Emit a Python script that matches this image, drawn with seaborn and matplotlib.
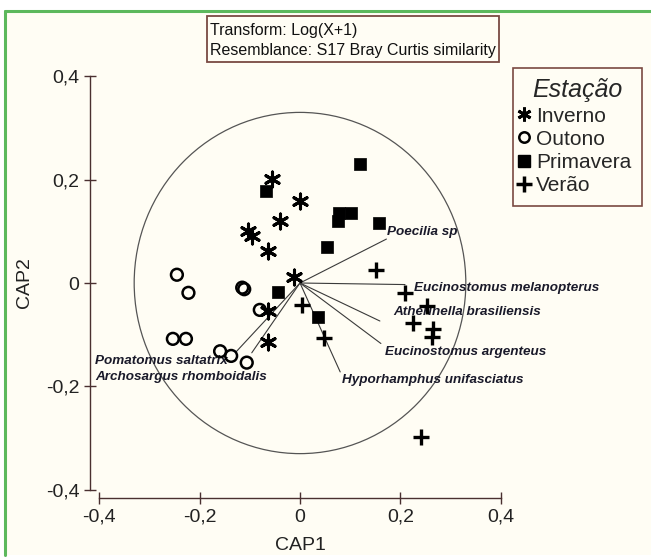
import matplotlib
matplotlib.use('Agg')
import matplotlib.pyplot as plt
import seaborn as sns
import pandas as pd
from matplotlib.patches import Ellipse, Rectangle
from matplotlib.lines import Line2D

# sample scores on CAP1 / CAP2, by season
inverno_x = [-0.055, 0.001, -0.040, -0.104, -0.096, -0.063, -0.011, -0.063, -0.063]
inverno_y = [0.201, 0.159, 0.119, 0.101, 0.091, 0.062, 0.012, -0.054, -0.115]
outono_x = [-0.245, -0.222, -0.115, -0.111, -0.080, -0.253, -0.227, -0.159, -0.137, -0.106]
outono_y = [0.016, -0.019, -0.009, -0.012, -0.052, -0.108, -0.108, -0.132, -0.141, -0.154]
primavera_x = [-0.068, -0.043, 0.119, 0.078, 0.101, 0.075, 0.157, 0.054, 0.035]
primavera_y = [0.177, -0.018, 0.230, 0.136, 0.136, 0.120, 0.117, 0.069, -0.065]
verao_x = [0.151, 0.209, 0.253, 0.224, 0.265, 0.262, 0.003, 0.048, 0.241]
verao_y = [0.026, -0.019, -0.044, -0.078, -0.088, -0.105, -0.043, -0.107, -0.298]

# species vectors (end points)
species = ["Poecilia sp", "Eucinostomus melanopterus", "Atherinella brasiliensis",
           "Eucinostomus argenteus", "Hyporhamphus unifasciatus",
           "Pomatomus saltatrix", "Archosargus rhomboidalis"]
vec_x = [0.172, 0.209, 0.159, 0.161, 0.080, -0.128, -0.096]
vec_y = [0.085, -0.003, -0.0735, -0.117, -0.172, -0.134, -0.135]

ticks = [-0.4, -0.2, 0, 0.2, 0.4]
tick_labels = ["-0,4", "-0,2", "0", "0,2", "0,4"]
circle_r = 0.33

sns.set_style("ticks")
plt.rcParams["font.family"] = ["Liberation Sans", "DejaVu Sans"]

CREAM = "#fffdf4"
BROWN = "#7a4a42"
AXC = "#4a3030"
W, H = 651, 560

fig = plt.figure(figsize=(W / 100, H / 100), dpi=100)
fig.patch.set_facecolor("white")
fig.patches.append(Rectangle((5 / W, 1 - 555 / H), 1 - 5 / W, (555 - 11) / H,
                             transform=fig.transFigure, fc=CREAM, ec="none", zorder=-10))
fig.lines.append(Line2D([5 / W, 5 / W], [1 - 555 / H, 1 - 11 / H], transform=fig.transFigure,
                        color="#5cb85c", lw=2.2))
fig.lines.append(Line2D([5 / W, 1], [1 - 11 / H, 1 - 11 / H], transform=fig.transFigure,
                        color="#5cb85c", lw=2.2))

ax = fig.add_axes([88 / W, 1 - 500 / H, (645 - 88) / W, (500 - 70) / H])
ax.set_facecolor("none")
ax.set_xlim(-0.4219, 0.6866)
ax.set_ylim(-0.4197, 0.4120)

ax.add_patch(Ellipse((0, 0), 2 * circle_r, 2 * circle_r, fill=False, ec="#555555", lw=0.9))

offsets = {
    "Poecilia sp": (1, 7, "left"),
    "Eucinostomus melanopterus": (9, -3, "left"),
    "Atherinella brasiliensis": (13, 9, "left"),
    "Eucinostomus argenteus": (4, -8, "left"),
    "Hyporhamphus unifasciatus": (2, -8, "left"),
    "Pomatomus saltatrix": (-8, -9, "right"),
    "Archosargus rhomboidalis": (15, -24, "right"),
}
for name, vx, vy in zip(species, vec_x, vec_y):
    ax.plot([0, vx], [0, vy], color="#3a3a3a", lw=0.8, zorder=2)
    dx, dy, ha = offsets[name]
    ax.annotate(name, (vx, vy), xytext=(dx, dy), textcoords="offset pixels",
                ha=ha, va="center", fontsize=9.7, fontweight="bold", fontstyle="italic",
                color="#1a1a2a")

df_inv = pd.DataFrame({"CAP1": inverno_x, "CAP2": inverno_y})
df_out = pd.DataFrame({"CAP1": outono_x, "CAP2": outono_y})
df_pri = pd.DataFrame({"CAP1": primavera_x, "CAP2": primavera_y})
df_ver = pd.DataFrame({"CAP1": verao_x, "CAP2": verao_y})

sns.scatterplot(data=df_inv, x="CAP1", y="CAP2", marker=(6, 2, 0), s=115, color="black",
                linewidth=2.2, ax=ax, zorder=3)
sns.scatterplot(data=df_out, x="CAP1", y="CAP2", marker="o", s=72, facecolor="none",
                edgecolor="black", linewidth=1.8, ax=ax, zorder=3)
sns.scatterplot(data=df_pri, x="CAP1", y="CAP2", marker="s", s=72, color="black",
                edgecolor="black", linewidth=0.5, ax=ax, zorder=3)
sns.scatterplot(data=df_ver, x="CAP1", y="CAP2", marker="+", s=125, color="black",
                linewidth=2.4, ax=ax, zorder=3)

# axes styling
sns.despine(ax=ax)
ax.spines["left"].set_position(("data", -0.418))
ax.spines["bottom"].set_position(("data", -0.416))
ax.spines["left"].set_bounds(-0.4, 0.4)
ax.spines["bottom"].set_bounds(-0.4, 0.4)
for sp in ("left", "bottom"):
    ax.spines[sp].set_color(AXC)
    ax.spines[sp].set_linewidth(1.0)
ax.set_xticks(ticks)
ax.set_xticklabels(tick_labels)
ax.set_yticks(ticks)
ax.set_yticklabels(tick_labels)
ax.tick_params(direction="inout", length=9, width=1, color=AXC, labelsize=14,
               labelcolor="#222222", pad=3)
ax.set_xlabel("")
ax.set_ylabel("")
fig.text(300 / W, 1 - 545 / H, "CAP1", ha="center", va="center", fontsize=14, color="#222222")
fig.text(25 / W, 1 - 283 / H, "CAP2", ha="center", va="center", rotation=90, fontsize=14,
         color="#222222")

# transform / resemblance box
fig.patches.append(Rectangle((207 / W, 1 - 62 / H), (499 - 207) / W, (62 - 16) / H,
                             transform=fig.transFigure, fc="none", ec=BROWN, lw=1.3))
fig.text(210 / W, 1 - 30 / H, "Transform: Log(X+1)", ha="left", va="center", fontsize=11.5,
         color="#111111")
fig.text(210 / W, 1 - 50 / H, "Resemblance: S17 Bray Curtis similarity", ha="left",
         va="center", fontsize=11.5, color="#111111")

# legend
handles = [
    Line2D([], [], marker=(6, 2, 0), ls="none", color="black", markersize=10, mew=2.1),
    Line2D([], [], marker="o", ls="none", mfc="none", mec="black", markersize=7.5, mew=1.8),
    Line2D([], [], marker="s", ls="none", color="black", markersize=8.5),
    Line2D([], [], marker="+", ls="none", color="black", markersize=12, mew=2.5),
]
leg = ax.legend(handles, ["Inverno", "Outono", "Primavera", "Verão"], title="Estação",
                loc="upper left", bbox_to_anchor=(513 / W, 1 - 68 / H),
                bbox_transform=fig.transFigure, frameon=True, fancybox=False,
                edgecolor=BROWN, facecolor=CREAM, fontsize=15, title_fontsize=18,
                handlelength=0.1, handletextpad=0.5, borderpad=0.5, labelspacing=0.2,
                borderaxespad=0)
leg.get_frame().set_linewidth(1.2)
leg.get_frame().set_alpha(1)
leg.get_title().set_fontstyle("italic")

fig.savefig("out.png", dpi=100)
